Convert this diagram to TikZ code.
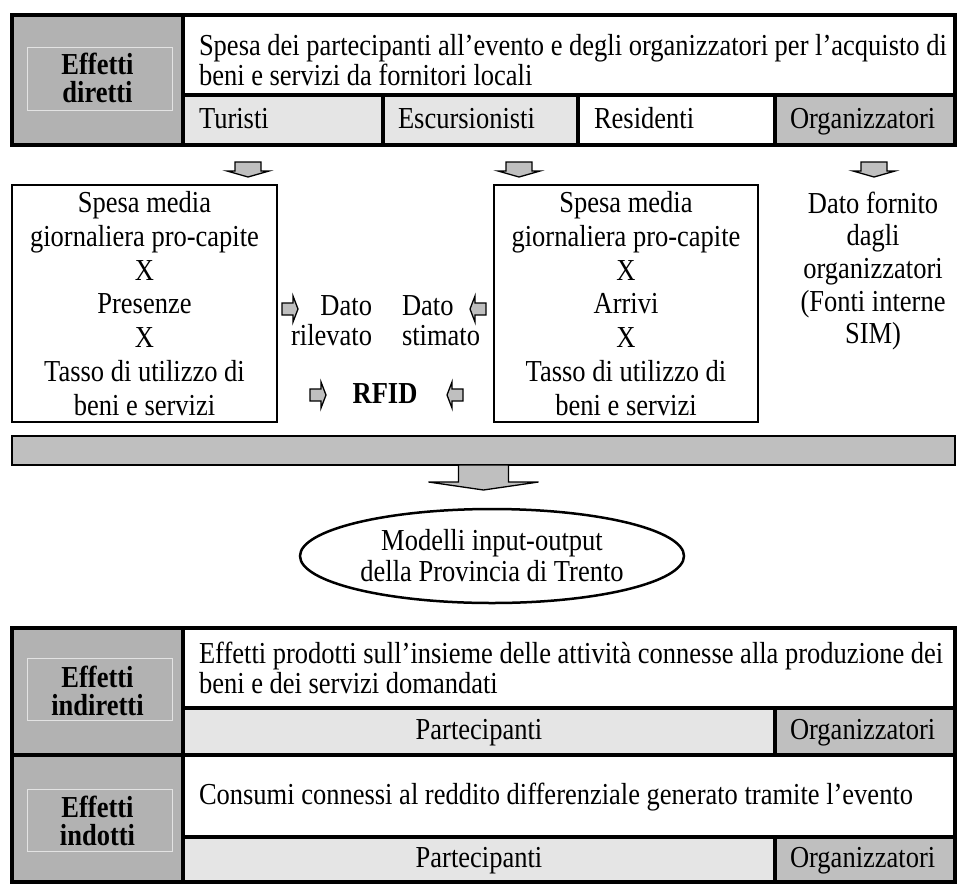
\documentclass[tikz,border=0pt]{standalone}
\usepackage{fontspec}
\setmainfont{Liberation Serif}
\usetikzlibrary{shapes.geometric}

\definecolor{grigiotesta}{gray}{0.70}
\definecolor{grigiochiaro}{gray}{0.90}
\definecolor{grigiomedio}{gray}{0.75}

\tikzset{
  testo/.style={inner sep=0pt, outer sep=0pt, yscale=1.15, transform shape,
                font=\fontsize{26.5}{26}\selectfont},
  cella/.style={testo, anchor=west, text height=18pt, text depth=6pt},
  testata/.style={testo, align=center, font=\fontsize{26.5}{24}\selectfont\bfseries},
  bordo/.style={line width=4pt, line cap=rect},
  cornice/.style={draw=gray!22, line width=0.6pt},
  riquadro/.style={draw, line width=2pt, inner sep=0pt},
  freccina/.style={fill=grigiomedio, draw=black, line width=1.3pt, line join=miter},
  giu/.pic={\filldraw[freccina] (-13,0) -- (13,0) -- (13,9) -- (21,9) -- (0,15)
            -- (-21,9) -- (-13,9) -- cycle;},
  destra/.pic={\filldraw[freccina] (0,-6) -- (11,-6) -- (11,-13) -- (16,0)
            -- (11,13) -- (11,6) -- (0,6) -- cycle;},
  sinistra/.pic={\filldraw[freccina] (0,-6) -- (-11,-6) -- (-11,-13) -- (-16,0)
            -- (-11,13) -- (-11,6) -- (0,6) -- cycle;},
  freccione/.pic={\filldraw[freccina] (-25,0) -- (25,0) -- (25,17) -- (55,17)
            -- (0,25) -- (-55,17) -- (-25,17) -- cycle;}
}

\begin{document}
\begin{tikzpicture}[x=1pt, y=-1pt]
  \useasboundingbox (0,0) rectangle (965,886);
  % effetti diretti
  \fill[grigiotesta] (12,15) rectangle (183,145);
  \fill[grigiochiaro] (183,95) rectangle (578,145);
  \fill[grigiomedio] (775,95) rectangle (955,145);
  \draw[bordo] (12,15) rectangle (955,145);
  \draw[bordo] (183,15) -- (183,145);
  \draw[bordo] (183,95) -- (955,95);
  \foreach \x in {383,578,775} {
    \draw[bordo] (\x,95) -- (\x,145);
  }
  \draw[cornice] (27,47) rectangle (172,110);
  \node[testata] (diretti) at (97.5,78) {Effetti\\diretti};
  \node[testo, anchor=west, align=left] (spesa) at (199,60)
    {Spesa dei partecipanti all’evento e degli organizzatori per l’acquisto di\\
     beni e servizi da fornitori locali};
  \node[cella] (turisti) at (199,122) {Turisti};
  \node[cella] (escursionisti) at (398,122) {Escursionisti};
  \node[cella] (residenti) at (594,122) {Residenti};
  \node[cella] (organizzatori) at (790,122) {Organizzatori};

  % frecce verso i calcoli
  \foreach \x in {248,519,874} {
    \pic at (\x,162) {giu};
  }

  % calcolo della spesa
  \node[riquadro, minimum width=265pt, minimum height=237pt] (calcoloP) at (144.5,303.5) {};
  \node[testo, align=center, font=\fontsize{26.5}{29.4}\selectfont] (testoP) at (calcoloP)
    {Spesa media\\giornaliera pro-capite\\X\\Presenze\\X\\Tasso di utilizzo di\\beni e servizi};
  \node[riquadro, minimum width=264pt, minimum height=237pt] (calcoloA) at (626,303.5) {};
  \node[testo, align=center, font=\fontsize{26.5}{29.4}\selectfont] (testoA) at (calcoloA)
    {Spesa media\\giornaliera pro-capite\\X\\Arrivi\\X\\Tasso di utilizzo di\\beni e servizi};
  \node[testo, align=center, font=\fontsize{26.5}{28.3}\selectfont] (fornito) at (873,271)
    {Dato fornito\\dagli\\organizzatori\\(Fonti interne\\SIM)};

  % fonte dei dati
  \node[testo, anchor=east, align=right] (rilevato) at (372,321) {Dato\\rilevato};
  \node[testo, anchor=west, align=left] (stimato) at (402,321) {Dato\\stimato};
  \pic at (282,309) {destra};
  \pic at (486,309) {sinistra};
  \node[testo, font=\fontsize{26.5}{26}\selectfont\bfseries] (rfid) at (385,394) {RFID};
  \pic at (310,395) {destra};
  \pic at (463,395) {sinistra};

  % barra e modello
  \node[fill=grigiomedio, draw, line width=2pt, inner sep=0pt, outer sep=0pt,
        minimum width=943pt, minimum height=29pt] (barra) at (483.5,450.5) {};
  \pic at (barra.south) {freccione};
  \node[ellipse, draw, line width=2.5pt, inner sep=0pt,
        minimum width=384pt, minimum height=94pt] (modelli) at (492,556) {};
  \node[testo, align=center, font=\fontsize{26.5}{27}\selectfont] (testoM) at (modelli)
    {Modelli input-output\\della Provincia di Trento};

  % effetti indiretti e indotti
  \fill[grigiotesta] (12,628) rectangle (183,882);
  \fill[grigiochiaro] (183,708) rectangle (775,755);
  \fill[grigiomedio] (775,708) rectangle (955,755);
  \fill[grigiochiaro] (183,837) rectangle (775,882);
  \fill[grigiomedio] (775,837) rectangle (955,882);
  \draw[bordo] (12,628) rectangle (955,882);
  \draw[bordo] (183,628) -- (183,882);
  \draw[bordo] (12,755) -- (955,755);
  \foreach \y in {708,837} {
    \draw[bordo] (183,\y) -- (955,\y);
  }
  \draw[bordo] (775,708) -- (775,755) (775,837) -- (775,882);
  \draw[cornice] (27,658) rectangle (172,720);
  \draw[cornice] (27,789) rectangle (172,851);
  \node[testata] (indiretti) at (97.5,691) {Effetti\\indiretti};
  \node[testata] (indotti) at (97.5,821) {Effetti\\indotti};
  \node[testo, anchor=west, align=left] (prodotti) at (199,668)
    {Effetti prodotti sull’insieme delle attività connesse alla produzione dei\\
     beni e dei servizi domandati};
  \node[cella] (consumi) at (199,798)
    {Consumi connessi al reddito differenziale generato tramite l’evento};
  \node[cella, anchor=center] (partecipantiA) at (479,733) {Partecipanti};
  \node[cella] (organizzatoriA) at (790,733) {Organizzatori};
  \node[cella, anchor=center] (partecipantiB) at (479,861) {Partecipanti};
  \node[cella] (organizzatoriB) at (790,861) {Organizzatori};
\end{tikzpicture}
\end{document}
